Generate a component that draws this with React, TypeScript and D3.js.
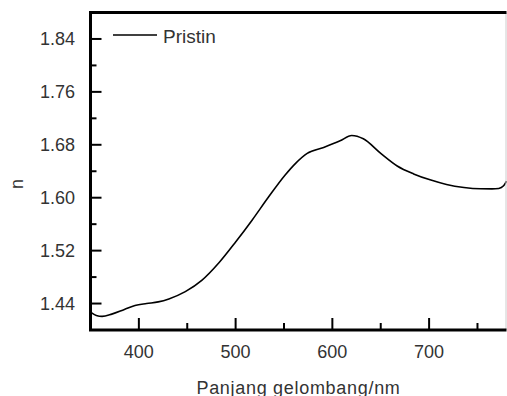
import React, { useEffect, useRef } from "react";
import * as d3 from "d3";

// wavelength (nm) and refractive index n
const wavelength = [350, 356, 362, 372, 385, 396, 408, 420, 431, 448, 465, 483, 500, 517, 534, 551, 562, 574, 591, 608, 620, 632, 650, 667, 684, 701, 718, 736, 753, 765, 772, 777, 780];
const nValues = [1.427, 1.422, 1.4206, 1.424, 1.431, 1.437, 1.440, 1.4425, 1.447, 1.458, 1.475, 1.502, 1.533, 1.566, 1.601, 1.634, 1.652, 1.667, 1.676, 1.686, 1.694, 1.689, 1.667, 1.648, 1.636, 1.627, 1.620, 1.6155, 1.6135, 1.6133, 1.614, 1.618, 1.625];

const xMajor = [400, 500, 600, 700];
const xMinor = [450, 550, 650, 750];
const yMajor = [1.44, 1.52, 1.6, 1.68, 1.76, 1.84];
const yMinor = [1.48, 1.56, 1.64, 1.72, 1.8];
const seriesName = "Pristin";

export default function App() {
  const ref = useRef<SVGSVGElement | null>(null);

  useEffect(() => {
    if (!ref.current) return;
    const svg = d3.select(ref.current);
    svg.selectAll("*").remove();

    const left = 90.5, right = 506.5, top = 12.5, bottom = 330;
    const x = d3.scaleLinear().domain([350, 780]).range([left, right]);
    const y = d3.scaleLinear().domain([1.4, 1.88]).range([bottom, top]);
    const font = "'Liberation Sans', Arial, sans-serif";
    const textColor = "#333";

    // curve
    const pts = wavelength.map((w, i) => [w, nValues[i]] as [number, number]);
    const line = d3
      .line<[number, number]>()
      .x((d) => x(d[0]))
      .y((d) => y(d[1]))
      .curve(d3.curveMonotoneX);
    svg
      .append("path")
      .attr("d", line(pts))
      .attr("fill", "none")
      .attr("stroke", "#000")
      .attr("stroke-width", 1.6);

    // frame
    svg.append("line").attr("x1", right - 0.5).attr("x2", right - 0.5).attr("y1", top).attr("y2", bottom)
      .attr("stroke", "#ccc").attr("stroke-width", 1);
    svg
      .append("path")
      .attr("d", `M${right},${top}H${left}V${bottom}H${right}`)
      .attr("fill", "none")
      .attr("stroke", "#000")
      .attr("stroke-width", 3);

    // ticks
    const g = svg.append("g").attr("stroke", "#000").attr("stroke-width", 2);
    yMajor.forEach((v) =>
      g.append("line").attr("x1", left).attr("x2", left + 11).attr("y1", y(v)).attr("y2", y(v))
    );
    yMinor.forEach((v) =>
      g.append("line").attr("x1", left).attr("x2", left + 6).attr("y1", y(v)).attr("y2", y(v))
    );
    xMajor.forEach((v) =>
      g.append("line").attr("x1", x(v)).attr("x2", x(v)).attr("y1", bottom).attr("y2", bottom - 12)
    );
    xMinor.forEach((v) =>
      g.append("line").attr("x1", x(v)).attr("x2", x(v)).attr("y1", bottom).attr("y2", bottom - 7)
    );

    const labels = svg
      .append("g")
      .attr("font-family", font)
      .attr("font-size", 18)
      .attr("fill", textColor);
    labels
      .selectAll("text.y")
      .data(yMajor)
      .join("text")
      .attr("x", 75)
      .attr("y", (d) => y(d) + 6.5)
      .attr("text-anchor", "end")
      .text((d) => d.toFixed(2));
    labels
      .selectAll("text.x")
      .data(xMajor)
      .join("text")
      .attr("x", (d) => x(d))
      .attr("y", 358)
      .attr("text-anchor", "middle")
      .text((d) => String(d));

    labels
      .append("text")
      .attr("x", (left + right) / 2)
      .attr("y", 393.5)
      .attr("text-anchor", "middle")
      .attr("font-size", 18)
      .attr("letter-spacing", 0.7)
      .text("Panjang gelombang/nm");
    labels
      .append("text")
      .attr("transform", "translate(23,184) rotate(-90)")
      .attr("text-anchor", "middle")
      .text("n");

    // legend
    svg.append("line").attr("x1", 113).attr("x2", 157).attr("y1", 35).attr("y2", 35)
      .attr("stroke", "#000").attr("stroke-width", 1.3);
    labels
      .append("text")
      .attr("x", 163)
      .attr("y", 42.5)
      .attr("font-size", 19)
      .text(seriesName);
  }, []);

  return (
    <svg
      ref={ref}
      width={507}
      height={396}
      style={{ position: "absolute", left: 0, top: 0, background: "#fff" }}
    />
  );
}
